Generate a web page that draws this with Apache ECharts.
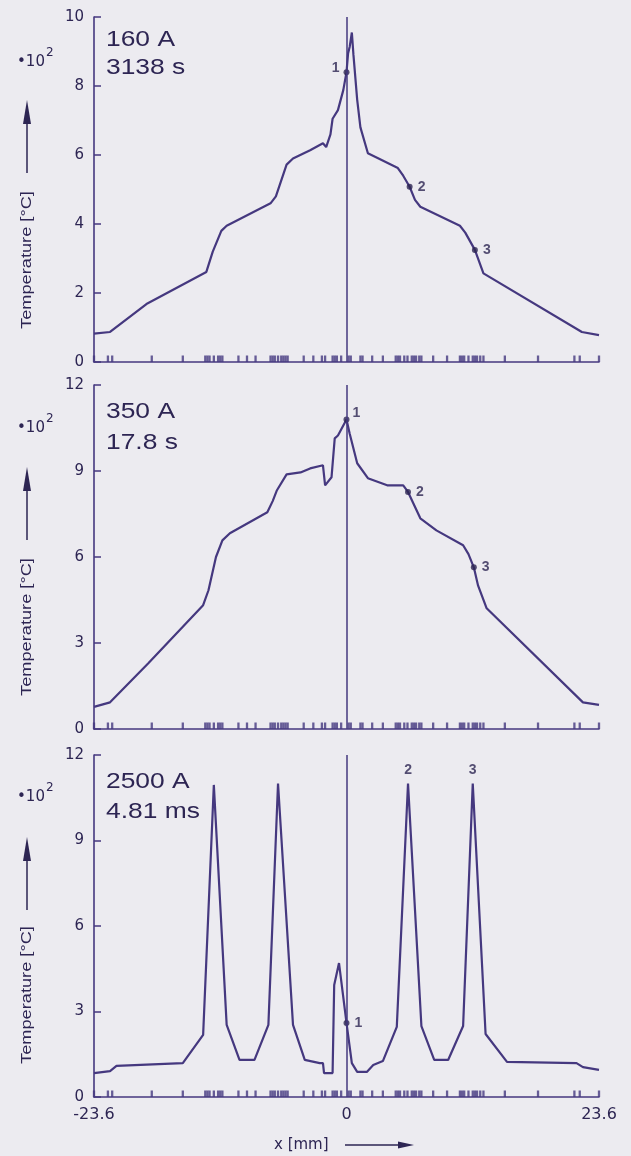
<!DOCTYPE html>
<html>
<head>
<meta charset="utf-8">
<script src="https://cdn.jsdelivr.net/npm/echarts@6/dist/echarts.min.js"></script>
<style>
html,body{margin:0;padding:0;background:#ecebf0;}
#c{width:631px;height:1156px;}
</style>
</head>
<body>
<div id="c"></div>
<script>
// ---------- DATA (temperature in units of 10^2 °C, x in mm) ----------
const xTicks = [-23.6, 0, 23.6];
const yTicks1 = [0, 2, 4, 6, 8, 10];
const yTicks2 = [0, 3, 6, 9, 12];
const yTicks3 = [0, 3, 6, 9, 12];

const panelTitles = [['160 A', '3138 s'], ['350 A', '17.8 s'], ['2500 A', '4.81 ms']];

const temp160 = [[-23.6,0.82],[-22.1,0.87],[-18.7,1.68],[-13.1,2.61],[-12.5,3.2],[-11.7,3.8],[-11.2,3.95],
  [-7.1,4.6],[-6.6,4.8],[-5.6,5.72],[-5.0,5.9],[-3.4,6.14],[-2.2,6.34],[-1.9,6.23],[-1.5,6.6],[-1.3,7.05],
  [-0.8,7.3],[-0.3,7.88],[0,8.4],[0.15,8.95],[0.3,9.14],[0.5,9.55],[0.65,8.9],[1.0,7.6],[1.3,6.8],[2.0,6.05],
  [4.8,5.62],[5.3,5.4],[5.9,5.08],[6.4,4.7],[6.9,4.5],[10.6,3.95],[11.1,3.75],[12.0,3.25],[12.8,2.57],
  [22.0,0.87],[23.6,0.78]];

const temp350 = [[-23.6,0.77],[-22.1,0.93],[-18.5,2.3],[-13.4,4.32],[-12.9,4.84],[-12.2,6.0],[-11.6,6.58],
  [-10.9,6.83],[-7.4,7.56],[-6.9,7.95],[-6.5,8.33],[-5.6,8.88],[-4.3,8.95],[-3.4,9.09],[-2.2,9.2],[-2.0,8.5],
  [-1.4,8.78],[-1.1,10.14],[-0.8,10.24],[0,10.8],[0.3,10.3],[1.0,9.27],[2.0,8.75],[3.8,8.5],[5.3,8.5],
  [5.75,8.27],[6.9,7.35],[8.4,6.93],[10.9,6.41],[11.4,6.1],[11.9,5.64],[12.3,5.0],[13.1,4.21],[22.1,0.93],[23.6,0.84]];

const temp2500 = [[-23.6,0.84],[-22.1,0.91],[-21.5,1.09],[-15.3,1.19],[-13.4,2.18],[-12.4,10.95],[-11.2,2.53],
  [-10.0,1.3],[-8.6,1.3],[-7.3,2.53],[-6.4,11.0],[-5.0,2.53],[-3.9,1.3],[-2.5,1.19],[-2.2,1.19],[-2.1,0.84],
  [-1.3,0.84],[-1.15,3.93],[-0.7,4.7],[0,2.6],[0.5,1.19],[1.0,0.88],[1.9,0.88],[2.5,1.12],[3.4,1.26],[4.7,2.46],
  [5.75,11.0],[7.0,2.49],[8.2,1.3],[9.5,1.3],[10.9,2.49],[11.8,11.0],[13.0,2.21],[15.0,1.23],[21.5,1.19],
  [22.1,1.05],[23.6,0.95]];

// measuring points 1, 2, 3
const points160 = [[0,8.4],[5.9,5.08],[12.0,3.25]];
const points350 = [[0,10.8],[5.75,8.27],[11.9,5.64]];
const points2500 = [[0,2.6],[5.75,11.0],[11.8,11.0]];
const pointNames = ['1','2','3'];

// mesh node positions marked on the x axis
const nodeX = [-23.6,-22.3,-21.9,-18.2,-15.3,-13.2,-13.0,-12.8,-12.4,-12.0,-11.8,-11.6,-10.1,-9.3,-8.5,
  -7.1,-6.9,-6.7,-6.4,-6.1,-5.9,-5.7,-5.5,-4.0,-3.1,-2.3,-2.0,-1.3,-1.1,-0.9,-0.5,
  0.2,0.4,1.3,1.5,2.4,3.4,4.6,4.8,5.0,5.4,5.7,6.1,6.3,6.5,6.8,7.0,8.1,9.4,10.6,10.8,11.0,11.4,
  11.8,12.0,12.2,12.5,12.8,14.8,17.9,21.3,21.8,23.6];

// ---------- CHART ----------
const LINE = '#45387f';
const TXT = '#2d2553';
const temps = [temp160, temp350, temp2500];
const pts = [points160, points350, points2500];
const yTicks = [yTicks1, yTicks2, yTicks3];
const grids = [
  {left: 94, right: 32, top: 17, height: 345},
  {left: 94, right: 32, top: 385, height: 344},
  {left: 94, right: 32, top: 755, height: 342}
];
const labelPos = [
  [{position:'left', offset:[1,-4]}, {position:'right'}, {position:'right'}],
  [{position:'right', offset:[-2,-6]}, {position:'right'}, {position:'right'}],
  [{position:'right'}, {position:'top', distance:6}, {position:'top', distance:6}]
];

const xAxes = [], yAxes = [], series = [];
for (let i = 0; i < 3; i++) {
  const yt = yTicks[i];
  xAxes.push({
    type: 'value', gridIndex: i,
    min: xTicks[0], max: xTicks[xTicks.length-1], interval: xTicks[1]-xTicks[0],
    axisLine: {show: true, onZero: false, lineStyle: {color: LINE, width: 1.6}},
    axisTick: {show: false}, splitLine: {show: false},
    axisLabel: {show: i === 2, showMinLabel: true, showMaxLabel: true, margin: 10,
      color: TXT, fontFamily: 'DejaVu Sans', fontSize: 16,
      formatter: v => Math.abs(v) < 1e-9 ? '0' : v.toFixed(1)}
  });
  yAxes.push({
    type: 'value', gridIndex: i,
    min: yt[0], max: yt[yt.length-1], interval: yt[1]-yt[0],
    axisLine: {show: true, onZero: false, lineStyle: {color: LINE, width: 1.6}},
    axisTick: {show: true, inside: true, length: 7, lineStyle: {color: LINE, width: 1.5}},
    splitLine: {show: false},
    axisLabel: {margin: 10, color: TXT, fontFamily: 'DejaVu Sans', fontSize: 15}
  });
  series.push({
    type: 'line', xAxisIndex: i, yAxisIndex: i, data: temps[i],
    symbol: 'none', z: 3,
    lineStyle: {color: LINE, width: 2.2},
    markLine: {silent: true, symbol: 'none', label: {show: false},
      lineStyle: {color: LINE, width: 1.5, type: 'solid'}, data: [{xAxis: 0}]}
  });
  series.push({
    type: 'scatter', xAxisIndex: i, yAxisIndex: i, silent: true, z: 2,
    data: nodeX.map(x => [x, 0]),
    symbol: 'rect', symbolSize: [2.3, 6.5], symbolOffset: [0, -3.25],
    itemStyle: {color: LINE}
  });
  series.push({
    type: 'scatter', xAxisIndex: i, yAxisIndex: i, silent: true, z: 4,
    data: pts[i].map((p, k) => ({
      value: p, name: pointNames[k],
      symbolSize: (i === 2 && k > 0) ? 0 : 6,
      label: Object.assign({show: true, formatter: '{b}', color: TXT,
        fontFamily: 'Liberation Sans', fontWeight: 'bold', fontSize: 14}, labelPos[i][k])
    })),
    symbol: 'circle',
    itemStyle: {color: '#2d2553'}
  });
}

// decorative texts (titles, axis titles, arrows)
const graphic = [];
const titleY = [[40, 68], [412, 443], [782, 812]];
const yTitleC = [260, 627, 995];
const arrowTop = [100, 467, 837];
const expY = [62, 428, 797];
for (let i = 0; i < 3; i++) {
  for (let k = 0; k < 2; k++) {
    graphic.push({type: 'text', x: 106, y: titleY[i][k], scaleX: 1.2,
      style: {text: panelTitles[i][k], fill: TXT, font: '22px "Liberation Sans"',
        align: 'left', verticalAlign: 'middle'}});
  }
  graphic.push({type: 'text', x: 27, y: yTitleC[i], rotation: Math.PI/2, scaleX: 1.3,
    style: {text: 'Temperature [°C]', fill: TXT, font: '14px "Liberation Sans"',
      align: 'center', verticalAlign: 'middle'}});
  const t = arrowTop[i];
  graphic.push({type: 'polygon', shape: {points: [[23, t+24], [27, t], [31, t+24]]}, style: {fill: TXT}});
  graphic.push({type: 'line', shape: {x1: 27, y1: t+22, x2: 27, y2: t+73}, style: {stroke: TXT, lineWidth: 1.5}});
  graphic.push({type: 'text', x: 17, y: expY[i],
    style: {text: '•10', fill: TXT, font: '15px "DejaVu Sans"', align: 'left', verticalAlign: 'middle'}});
  graphic.push({type: 'text', x: 46, y: expY[i]-9,
    style: {text: '2', fill: TXT, font: '12px "DejaVu Sans"', align: 'left', verticalAlign: 'middle'}});
}
graphic.push({type: 'text', x: 274, y: 1145,
  style: {text: 'x [mm]', fill: TXT, font: '15px "DejaVu Sans"', align: 'left', verticalAlign: 'middle'}});
graphic.push({type: 'line', shape: {x1: 345, y1: 1145, x2: 402, y2: 1145}, style: {stroke: TXT, lineWidth: 1.5}});
graphic.push({type: 'polygon', shape: {points: [[398, 1141.5], [414, 1145], [398, 1148.5]]}, style: {fill: TXT}});

const chart = echarts.init(document.getElementById('c'), null, {renderer: 'canvas'});
chart.setOption({
  backgroundColor: '#ecebf0',
  animation: false,
  grid: grids,
  xAxis: xAxes,
  yAxis: yAxes,
  series: series,
  graphic: graphic
});
</script>
</body>
</html>
